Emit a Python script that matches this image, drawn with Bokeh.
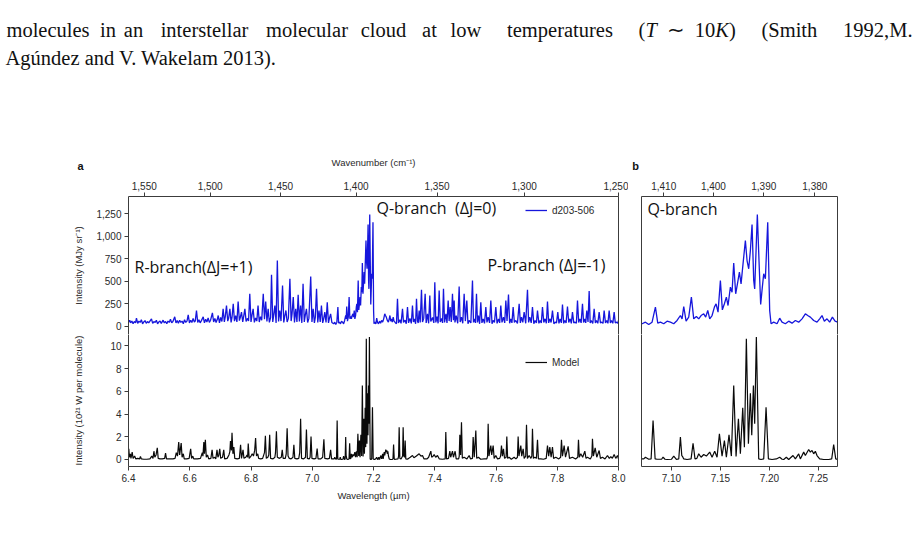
from bokeh.plotting import figure
from bokeh.models import (Range1d, LinearAxis, FixedTicker, CustomJSTickFormatter,
                          NumeralTickFormatter, Label, Legend, LegendItem)
from bokeh.layouts import column, row
from bokeh.embed import file_html
from bokeh.resources import INLINE

# ---------------- data ----------------
# observed spectrum (d203-506), wavelength in micron, intensity in MJy/sr
blue_wl_a = [
    6.400, 6.404, 6.407, 6.411, 6.415, 6.419, 6.423, 6.426, 6.430, 6.434,
    6.438, 6.442, 6.446, 6.450, 6.454, 6.458, 6.462, 6.466, 6.470, 6.475,
    6.479, 6.483, 6.487, 6.491, 6.495, 6.499, 6.503, 6.507, 6.513, 6.517,
    6.521, 6.525, 6.529, 6.533, 6.537, 6.541, 6.545, 6.551, 6.555, 6.559,
    6.563, 6.567, 6.571, 6.575, 6.579, 6.583, 6.587, 6.591, 6.595, 6.599,
    6.603, 6.607, 6.611, 6.615, 6.618, 6.622, 6.626, 6.630, 6.634, 6.638,
    6.644, 6.648, 6.652, 6.656, 6.660, 6.664, 6.668, 6.674, 6.678, 6.682,
    6.686, 6.690, 6.693, 6.697, 6.701, 6.705, 6.709, 6.713, 6.716, 6.720,
    6.724, 6.727, 6.731, 6.735, 6.738, 6.742, 6.746, 6.750, 6.754, 6.758,
    6.762, 6.765, 6.769, 6.773, 6.776, 6.780, 6.784, 6.788, 6.792, 6.796,
    6.800, 6.803, 6.807, 6.811, 6.815, 6.819, 6.823, 6.827, 6.831, 6.835,
    6.840, 6.844, 6.848, 6.852, 6.856, 6.860, 6.864, 6.867, 6.871, 6.874,
    6.878, 6.882, 6.886, 6.890, 6.894, 6.898, 6.903, 6.907, 6.910, 6.914,
    6.918, 6.922, 6.927, 6.931, 6.934, 6.938, 6.942, 6.946, 6.950, 6.954,
    6.958, 6.962, 6.966, 6.970, 6.974, 6.977, 6.981, 6.985, 6.989, 6.995,
    6.999, 7.003, 7.007, 7.010, 7.014, 7.018, 7.022, 7.026, 7.030, 7.034,
    7.037, 7.041, 7.045, 7.049, 7.053, 7.056, 7.060, 7.064]
blue_int_a = [
    45, 70, 40, 60, 30, 55, 40, 92, 35, 60,
    45, 75, 30, 50, 65, 35, 55, 40, 60, 85,
    35, 55, 45, 70, 30, 50, 60, 35, 70, 40,
    55, 30, 60, 45, 80, 40, 55, 107, 40, 65,
    35, 70, 45, 60, 30, 75, 45, 60, 130, 40,
    70, 45, 90, 50, 60, 178, 45, 75, 40, 65,
    107, 40, 80, 50, 95, 45, 70, 152, 50, 90,
    45, 80, 122, 40, 100, 55, 196, 50, 110, 233,
    60, 90, 196, 45, 100, 252, 60, 120, 50, 278,
    65, 100, 159, 50, 110, 196, 55, 90, 60, 363,
    50, 120, 196, 45, 95, 60, 233, 50, 110, 70,
    363, 80, 278, 55, 196, 45, 100, 574, 50, 120,
    233, 40, 733, 55, 178, 60, 455, 45, 110, 178,
    50, 90, 530, 60, 140, 326, 45, 196, 50, 352,
    55, 233, 40, 474, 50, 120, 196, 45, 90, 555,
    50, 196, 40, 100, 418, 45, 178, 50, 233, 40,
    80, 159, 45, 270, 40, 90, 141, 45]
blue_wl_b = [
    7.0701, 7.0735, 7.0769, 7.0803, 7.0837, 7.0861, 7.0888, 7.0922, 7.0956, 7.0990,
    7.1024, 7.1058, 7.1092, 7.1109, 7.1126, 7.1150, 7.1177, 7.1204, 7.1228, 7.1255,
    7.1279, 7.1303, 7.1330, 7.1350, 7.1371, 7.1391, 7.1415, 7.1439, 7.1456, 7.1476,
    7.1500, 7.1520, 7.1541, 7.1561, 7.1578, 7.1602, 7.1619, 7.1636, 7.1656, 7.1677,
    7.1694, 7.1711, 7.1731, 7.1755, 7.1772, 7.1789, 7.1806, 7.1823, 7.1840, 7.1850,
    7.1864, 7.1877, 7.1894, 7.1911, 7.1928, 7.1942, 7.1959, 7.1983, 7.2003, 7.2017,
    7.2044, 7.2078, 7.2105, 7.2129, 7.2163, 7.2197, 7.2231, 7.2265, 7.2299, 7.2333,
    7.2367, 7.2391, 7.2418, 7.2452, 7.2486, 7.2513, 7.2537, 7.2561, 7.2588, 7.2615,
    7.2643, 7.2670]
blue_int_b = [
    30, 48, 22, 48, 215, 37, 48, 30, 59, 48,
    30, 67, 122, 85, 222, 59, 104, 326, 85, 111,
    85, 122, 141, 104, 178, 85, 122, 215, 252, 159,
    511, 185, 252, 326, 233, 437, 381, 704, 363, 493,
    604, 474, 696, 955, 733, 641, 844, 1133, 511, 418,
    844, 1244, 733, 244, 437, 585, 530, 1159, 178, 30,
    48, 30, 92, 48, 30, 59, 37, 67, 48, 85,
    141, 122, 104, 67, 48, 85, 122, 59, 85, 48,
    104, 59]
blue_wl_c = [
    7.2707, 7.2750, 7.2783, 7.2815, 7.2860, 7.2900, 7.2947, 7.2980, 7.3030, 7.3070,
    7.3110, 7.3145, 7.3190, 7.3235, 7.3273, 7.3305, 7.3340, 7.3375, 7.3404, 7.3435,
    7.3460, 7.3491, 7.3525, 7.3567, 7.3600, 7.3640, 7.3687, 7.3720, 7.3763, 7.3800,
    7.3839, 7.3870, 7.3930, 7.3970, 7.4002, 7.4035, 7.4075, 7.4110, 7.4144, 7.4180,
    7.4225, 7.4255, 7.4285, 7.4320, 7.4365, 7.4400, 7.4438, 7.4470, 7.4503, 7.4540,
    7.4579, 7.4610, 7.4634, 7.4660, 7.4700, 7.4750, 7.4797, 7.4830, 7.4873, 7.4915,
    7.4960, 7.5000, 7.5047, 7.5085, 7.5123, 7.5180, 7.5232, 7.5265, 7.5298, 7.5330,
    7.5363, 7.5395, 7.5428, 7.5465, 7.5504, 7.5540, 7.5581, 7.5625, 7.5668, 7.5705,
    7.5744, 7.5790, 7.5831, 7.5870, 7.5907, 7.5950, 7.5994, 7.6035, 7.6081, 7.6120,
    7.6157, 7.6195, 7.6244, 7.6285, 7.6321, 7.6360, 7.6408, 7.6445, 7.6484, 7.6520,
    7.6560, 7.6600, 7.6647, 7.6700, 7.6756, 7.6795, 7.6832, 7.6875, 7.6919, 7.6970,
    7.7028, 7.7065, 7.7104, 7.7150, 7.7191, 7.7235, 7.7278, 7.7320, 7.7355, 7.7400,
    7.7442, 7.7480, 7.7518, 7.7560, 7.7605, 7.7645, 7.7681, 7.7720, 7.7757, 7.7800,
    7.7844, 7.7890, 7.7931, 7.7975, 7.8018, 7.8055, 7.8095, 7.8135, 7.8171, 7.8210,
    7.8247, 7.8290, 7.8334, 7.8375, 7.8421, 7.8460, 7.8497, 7.8540, 7.8584, 7.8625,
    7.8661, 7.8700, 7.8737, 7.8780, 7.8824, 7.8860, 7.8900, 7.8930, 7.8965, 7.9005,
    7.9042, 7.9075, 7.9107, 7.9160, 7.9205, 7.9245, 7.9281, 7.9325, 7.9368, 7.9410,
    7.9455, 7.9495, 7.9531, 7.9575, 7.9618, 7.9655, 7.9695, 7.9735, 7.9771, 7.9815,
    7.9858, 7.9895, 7.9934, 7.9970, 8.0000]
blue_int_c = [
    45, 30, 307, 40, 75, 35, 196, 45, 70, 30,
    215, 40, 90, 35, 233, 50, 85, 30, 307, 60,
    40, 178, 45, 407, 50, 90, 363, 40, 141, 35,
    344, 55, 100, 40, 492, 45, 110, 35, 400, 50,
    90, 40, 418, 45, 141, 40, 289, 60, 215, 50,
    363, 70, 289, 45, 120, 35, 444, 50, 104, 35,
    363, 60, 289, 30, 67, 40, 511, 45, 85, 40,
    363, 45, 122, 30, 270, 40, 85, 35, 215, 45,
    104, 40, 289, 30, 67, 45, 215, 35, 85, 40,
    233, 45, 104, 40, 289, 60, 356, 35, 85, 40,
    215, 45, 67, 35, 252, 40, 104, 45, 159, 35,
    407, 45, 104, 40, 215, 30, 67, 40, 178, 35,
    67, 40, 215, 45, 85, 35, 278, 40, 85, 45,
    178, 30, 48, 40, 159, 35, 85, 40, 244, 35,
    67, 40, 222, 45, 85, 35, 159, 40, 48, 35,
    289, 45, 85, 40, 252, 45, 85, 40, 178, 50,
    393, 40, 67, 35, 196, 40, 67, 35, 159, 40,
    48, 35, 178, 40, 67, 35, 178, 40, 67, 35,
    159, 40, 48, 35, 67]

# model spectrum, intensity in 1e-21 W per molecule
model_wl_a = [
    6.400, 6.401, 6.403, 6.406, 6.408, 6.412, 6.415, 6.420, 6.424, 6.430,
    6.436, 6.439, 6.442, 6.450, 6.460, 6.470, 6.476, 6.480, 6.483, 6.486,
    6.490, 6.494, 6.497, 6.503, 6.510, 6.518, 6.521, 6.524, 6.535, 6.545,
    6.552, 6.556, 6.560, 6.564, 6.567, 6.572, 6.575, 6.579, 6.582, 6.590,
    6.598, 6.603, 6.606, 6.610, 6.613, 6.625, 6.635, 6.641, 6.643, 6.646,
    6.648, 6.651, 6.654, 6.658, 6.662, 6.669, 6.673, 6.676, 6.682, 6.685,
    6.689, 6.692, 6.695, 6.698, 6.701, 6.707, 6.711, 6.714, 6.722, 6.728,
    6.731, 6.733, 6.736, 6.738, 6.741, 6.744, 6.747, 6.755, 6.762, 6.766,
    6.769, 6.774, 6.777, 6.783, 6.787, 6.789, 6.791, 6.794, 6.800, 6.804,
    6.808, 6.812, 6.815, 6.818, 6.822, 6.825, 6.832, 6.838, 6.844, 6.847,
    6.850, 6.855, 6.858, 6.861, 6.864, 6.872, 6.878, 6.880, 6.883, 6.886,
    6.893, 6.899, 6.902, 6.905, 6.912, 6.915, 6.918, 6.921, 6.925, 6.931,
    6.937, 6.940, 6.943, 6.950, 6.956, 6.959, 6.962, 6.965, 6.972, 6.978,
    6.981, 6.984, 6.990, 6.993, 6.996, 6.999, 7.006, 7.012, 7.016, 7.019,
    7.028, 7.034, 7.038, 7.041, 7.050, 7.056, 7.060, 7.063, 7.068]
model_int_a = [
    0.3, 0.94, 0.2, 0.5, 0.1, 0.65, 0.1, 0.3, 0.05, 0.1,
    0.05, 0.26, 0.05, 0.02, 0.02, 0.05, 0.3, 0.1, 0.73, 0.2,
    0.4, 1.03, 0.1, 0.05, 0.05, 0.1, 0.56, 0.05, 0.05, 0.05,
    0.1, 0.6, 0.3, 1.53, 0.4, 1.44, 0.2, 0.5, 0.05, 0.05,
    0.1, 0.94, 0.1, 0.3, 0.05, 0.05, 0.1, 0.6, 0.3, 1.53,
    0.5, 1.73, 0.2, 0.4, 0.05, 0.1, 0.85, 0.1, 0.2, 0.05,
    0.85, 0.2, 0.4, 0.94, 0.1, 0.2, 0.85, 0.05, 0.1, 0.4,
    0.7, 1.62, 0.8, 2.35, 0.5, 1.1, 0.1, 0.05, 0.1, 1.3,
    0.1, 0.85, 0.1, 0.2, 0.4, 0.2, 1.41, 0.1, 0.3, 0.5,
    0.3, 0.8, 1.9, 0.3, 0.5, 0.1, 0.05, 0.1, 0.6, 2.08,
    0.1, 0.2, 0.4, 2.17, 0.1, 0.05, 0.2, 0.6, 2.49, 0.2,
    0.1, 0.2, 0.85, 0.1, 0.1, 0.5, 2.76, 0.3, 0.1, 0.05,
    0.2, 1.3, 0.1, 0.05, 0.1, 0.6, 3.58, 0.1, 0.05, 0.2,
    2.64, 0.1, 0.05, 0.2, 2.02, 0.1, 0.05, 0.1, 0.97, 0.05,
    0.05, 0.2, 1.79, 0.1, 0.05, 0.1, 0.85, 0.05, 0.05]
model_wl_b = [
    7.0718, 7.0735, 7.0769, 7.0793, 7.0813, 7.0834, 7.0854, 7.0900, 7.0915, 7.0935,
    7.0956, 7.1000, 7.1024, 7.1051, 7.1075, 7.1092, 7.1106, 7.1115, 7.1126, 7.1160,
    7.1201, 7.1221, 7.1241, 7.1260, 7.1279, 7.1303, 7.1330, 7.1357, 7.1391, 7.1415,
    7.1442, 7.1466, 7.1490, 7.1517, 7.1541, 7.1561, 7.1588, 7.1612, 7.1636, 7.1660,
    7.1684, 7.1704, 7.1728, 7.1745, 7.1765, 7.1786, 7.1806, 7.1820, 7.1837, 7.1850,
    7.1867, 7.1891, 7.1915, 7.1942, 7.1966, 7.1990, 7.2027, 7.2071, 7.2105, 7.2130,
    7.2146, 7.2173, 7.2197, 7.2241, 7.2265, 7.2299, 7.2316, 7.2350, 7.2367, 7.2401,
    7.2418, 7.2435, 7.2452, 7.2469, 7.2486, 7.2513, 7.2554, 7.2605, 7.2636, 7.2656,
    7.2677, 7.2697]
model_int_b = [
    0.05, 0.20, 0.02, 0.05, 3.44, 0.05, 0.02, 0.02, 0.20, 0.02,
    0.0, 0.02, 0.29, 0.0, 0.05, 1.97, 0.35, 0.25, 0.05, 0.0,
    0.05, 1.43, 0.05, 0.1, 0.5, 0.2, 0.44, 0.3, 0.65, 0.2,
    0.73, 0.2, 2.26, 0.3, 1.67, 0.2, 2.17, 0.3, 6.52, 0.26,
    3.58, 0.5, 4.55, 1.09, 10.63, 1.38, 5.84, 2.13, 6.52, 3.14,
    10.78, 0.05, 0.0, 0.05, 4.6, 0.05, 0.0, 0.05, 0.2, 0.02,
    0.0, 0.2, 0.0, 0.35, 0.05, 0.5, 0.05, 0.65, 0.35, 0.88,
    0.65, 0.8, 0.5, 0.73, 0.35, 0.05, 0.0, 0.0, 0.05, 1.32,
    0.05, 0.0]
model_wl_c = [
    7.2720, 7.2800, 7.2820, 7.2838, 7.2860, 7.2900, 7.2950, 7.2968, 7.2990, 7.3015,
    7.3034, 7.3055, 7.3100, 7.3150, 7.3200, 7.3273, 7.3320, 7.3400, 7.3491, 7.3550,
    7.3600, 7.3650, 7.3750, 7.3800, 7.3872, 7.3900, 7.3950, 7.3981, 7.4030, 7.4089,
    7.4150, 7.4250, 7.4340, 7.4361, 7.4385, 7.4450, 7.4492, 7.4520, 7.4579, 7.4610,
    7.4666, 7.4700, 7.4780, 7.4800, 7.4819, 7.4845, 7.4873, 7.4900, 7.4960, 7.5050,
    7.5123, 7.5170, 7.5230, 7.5254, 7.5290, 7.5341, 7.5370, 7.5428, 7.5500, 7.5613,
    7.5700, 7.5725, 7.5744, 7.5770, 7.5831, 7.5860, 7.5907, 7.5940, 7.5994, 7.6050,
    7.6120, 7.6150, 7.6179, 7.6210, 7.6244, 7.6280, 7.6330, 7.6353, 7.6380, 7.6429,
    7.6500, 7.6593, 7.6650, 7.6700, 7.6723, 7.6750, 7.6810, 7.6840, 7.6887, 7.6920,
    7.6970, 7.6996, 7.7025, 7.7083, 7.7140, 7.7170, 7.7191, 7.7220, 7.7268, 7.7320,
    7.7355, 7.7385, 7.7464, 7.7550, 7.7640, 7.7681, 7.7720, 7.7757, 7.7800, 7.7844,
    7.7880, 7.7953, 7.8050, 7.8110, 7.8138, 7.8170, 7.8225, 7.8270, 7.8356, 7.8400,
    7.8497, 7.8600, 7.8670, 7.8693, 7.8720, 7.8769, 7.8830, 7.8900, 7.8940, 7.8987,
    7.9080, 7.9130, 7.9150, 7.9180, 7.9238, 7.9290, 7.9368, 7.9410, 7.9477, 7.9560,
    7.9640, 7.9700, 7.9749, 7.9800, 7.9858, 7.9910, 7.9967, 8.0000]
model_int_c = [
    0.02, 0.05, 0.3, 2.85, 0.1, 0.05, 0.3, 2.85, 0.3, 0.2,
    1.67, 0.05, 0.02, 0.1, 0.2, 0.35, 0.15, 0.3, 0.5, 0.3,
    0.35, 0.05, 0.05, 0.2, 0.73, 0.2, 0.3, 0.44, 0.2, 0.35,
    0.05, 0.02, 0.05, 2.41, 0.05, 0.1, 0.73, 0.2, 0.73, 0.2,
    0.73, 0.05, 0.05, 0.3, 2.17, 0.4, 3.29, 0.1, 0.2, 0.05,
    0.35, 0.05, 0.1, 1.97, 0.2, 2.55, 0.1, 0.2, 0.02, 0.05,
    0.05, 0.3, 3.14, 0.3, 1.23, 0.4, 1.23, 0.1, 0.35, 0.05,
    0.1, 0.3, 1.23, 0.3, 0.94, 0.1, 0.2, 2.03, 0.1, 0.2,
    0.02, 0.2, 0.05, 0.2, 2.03, 0.3, 1.23, 0.3, 0.94, 0.1,
    0.3, 3.05, 0.1, 0.35, 0.1, 0.3, 2.7, 0.1, 0.2, 0.1,
    1.73, 0.05, 0.05, 0.02, 0.1, 1.23, 0.3, 1.09, 0.2, 1.09,
    0.1, 0.2, 0.05, 0.2, 1.73, 0.3, 1.23, 0.2, 1.15, 0.1,
    0.2, 0.05, 0.2, 1.73, 0.2, 0.5, 0.2, 0.73, 0.1, 0.2,
    0.05, 0.3, 1.82, 0.3, 1.03, 0.2, 0.79, 0.1, 0.2, 0.05,
    0.35, 0.1, 0.26, 0.1, 0.44, 0.1, 0.35, 0.05]

blue_wavelength = blue_wl_a + blue_wl_b + blue_wl_c
blue_intensity = blue_int_a + blue_int_b + blue_int_c
model_wavelength = model_wl_a + model_wl_b + model_wl_c
model_intensity = model_int_a + model_int_b + model_int_c

# tick labels
wavenumber_ticks_a = [1550, 1500, 1450, 1400, 1350, 1300, 1250]
wavenumber_ticks_b = [1410, 1400, 1390, 1380]
wavelength_ticks_a = [6.4, 6.6, 6.8, 7.0, 7.2, 7.4, 7.6, 7.8, 8.0]
wavelength_ticks_b = [7.10, 7.15, 7.20, 7.25]
obs_ticks = [0, 250, 500, 750, 1000, 1250]
model_ticks = [0, 2, 4, 6, 8, 10]

# ---------------- styling ----------------
BLUE = "#1616dc"
BLACK = "#0a0a0a"
AXIS = "#3c3c3c"
TXT = "#2a2a2a"
FONT = "Liberation Sans"
ANN_FONT = "Open Sans"

WN_FMT = """
const v = Math.round(10000 / tick);
const s = String(v);
return s.length > 3 ? s.slice(0, s.length - 3) + ',' + s.slice(s.length - 3) : s;
"""


def make_fig(w, h, xr, yr, left, right, top, bottom):
    p = figure(width=w, height=h, x_range=xr, y_range=yr, output_backend="svg",
               toolbar_location=None, x_axis_location=None, y_axis_location=None,
               min_border_left=left, min_border_right=right,
               min_border_top=top, min_border_bottom=bottom)
    p.grid.visible = False
    p.outline_line_color = None
    p.background_fill_color = "white"
    p.border_fill_color = "white"
    return p


def style(ax, label_standoff=8):
    ax.axis_line_color = AXIS
    ax.axis_line_width = 1
    ax.major_tick_line_color = AXIS
    ax.minor_tick_line_color = None
    ax.major_tick_out = 4
    ax.major_tick_in = 0
    ax.major_label_standoff = 3
    ax.major_label_text_font = FONT
    ax.major_label_text_font_size = "10px"
    ax.major_label_text_color = TXT
    ax.axis_label_text_font = FONT
    ax.axis_label_text_font_size = "9.5px"
    ax.axis_label_text_font_style = "normal"
    ax.axis_label_text_color = TXT
    ax.axis_label_standoff = label_standoff
    return ax


def frame_axis(p, side):
    ax = LinearAxis(ticker=FixedTicker(ticks=[]), axis_line_color=AXIS,
                    major_tick_line_color=None, minor_tick_line_color=None,
                    major_tick_out=0, major_tick_in=0, major_label_standoff=0,
                    major_label_text_font_size="0px")
    p.add_layout(ax, side)


obs_range = (-89, 1444)
mod_range = (-0.617, 11.01)

# ---------------- panel a ----------------
a_top = make_fig(628, 162, Range1d(6.4, 8.0), Range1d(*obs_range), 128, 10, 24, 0)
a_bot = make_fig(628, 208, Range1d(6.4, 8.0), Range1d(*mod_range), 128, 10, 0, 76)

r_obs_a = a_top.line(blue_wavelength, blue_intensity, line_color=BLUE, line_width=1.3)
r_mod_a = a_bot.line(model_wavelength, model_intensity, line_color=BLACK, line_width=1.2)

ax = style(LinearAxis(ticker=FixedTicker(ticks=obs_ticks),
                      formatter=NumeralTickFormatter(format="0,0"),
                      axis_label="Intensity (MJy sr\u207b\u00b9)"), 9)
a_top.add_layout(ax, "left")
ax = style(LinearAxis(ticker=FixedTicker(ticks=[1e4 / w for w in wavenumber_ticks_a]),
                      formatter=CustomJSTickFormatter(code=WN_FMT)))
a_top.add_layout(ax, "above")
frame_axis(a_top, "right")

ax = style(LinearAxis(ticker=FixedTicker(ticks=model_ticks),
                      axis_label="Intensity (10\u00b2\u00b9 W per molecule)"), 23)
a_bot.add_layout(ax, "left")
ax = style(LinearAxis(ticker=FixedTicker(ticks=wavelength_ticks_a),
                      formatter=NumeralTickFormatter(format="0.0"),
                      axis_label="Wavelength (\u00b5m)"), 5)
a_bot.add_layout(ax, "below")
frame_axis(a_bot, "right")

leg_kw = dict(border_line_color=None, background_fill_alpha=0, padding=0, margin=0,
              spacing=0, glyph_width=22, glyph_height=12, label_height=12,
              label_standoff=5, label_text_font=FONT, label_text_font_size="10px",
              label_text_color=TXT)
a_top.add_layout(Legend(items=[LegendItem(label="d203-506", renderers=[r_obs_a])],
                        location=(397, 118), **leg_kw))
a_bot.add_layout(Legend(items=[LegendItem(label="Model", renderers=[r_mod_a])],
                        location=(397, 98), **leg_kw))

ann = dict(text_font=ANN_FONT, text_font_size="16px", text_baseline="middle",
           text_color="#111111")
a_top.add_layout(Label(x=7.2098, y=1311, text="Q-branch\u00a0 (\u0394J=0)", **ann))
a_top.add_layout(Label(x=6.4196, y=656, text="R-branch(\u0394J=+1)", **ann))
a_top.add_layout(Label(x=7.5722, y=678, text="P-branch (\u0394J=-1)", **ann))

# ---------------- panel b ----------------
b_top = make_fig(289, 162, Range1d(7.0695, 7.2695), Range1d(*obs_range), 13, 80, 24, 0)
b_bot = make_fig(289, 208, Range1d(7.0695, 7.2695), Range1d(*mod_range), 13, 80, 0, 76)

b_top.line(blue_wavelength, blue_intensity, line_color=BLUE, line_width=1.3)
b_bot.line(model_wavelength, model_intensity, line_color=BLACK, line_width=1.2)

ax = style(LinearAxis(ticker=FixedTicker(ticks=[1e4 / w for w in wavenumber_ticks_b]),
                      formatter=CustomJSTickFormatter(code=WN_FMT)))
b_top.add_layout(ax, "above")
frame_axis(b_top, "left")
frame_axis(b_top, "right")

ax = style(LinearAxis(ticker=FixedTicker(ticks=wavelength_ticks_b),
                      formatter=NumeralTickFormatter(format="0.00")))
b_bot.add_layout(ax, "below")
frame_axis(b_bot, "left")
frame_axis(b_bot, "right")

b_top.add_layout(Label(x=7.0755, y=1300, text="Q-branch", **ann))

# ---------------- caption and panel headings above the figure ----------------
cap = figure(width=917, height=172, x_range=Range1d(0, 917), y_range=Range1d(172, 0),
             output_backend="svg", toolbar_location=None, x_axis_location=None,
             y_axis_location=None, min_border=0)
cap.grid.visible = False
cap.outline_line_color = None

SERIF = "Liberation Serif"
line1 = [("molecules", 47.5, "normal"), ("in", 107.5, "normal"), ("an", 133, "normal"),
         ("interstellar", 204, "normal"), ("molecular", 306.5, "normal"),
         ("cloud", 383, "normal"), ("at", 429, "normal"), ("low", 465.4, "normal"),
         ("temperatures", 559.5, "normal"), ("(", 641.5, "normal"), ("T", 650.6, "italic"),
         ("\u223c", 675.3, "normal"), ("10", 704.6, "normal"), ("K", 721.7, "italic"),
         (")", 731.9, "normal"), ("(Smith", 788.9, "normal")]
for word, x, st in line1:
    cap.add_layout(Label(x=x, y=29, text=word, text_font=SERIF, text_font_size="20.5px",
                         text_font_style=st, text_align="center",
                         text_baseline="alphabetic", text_color="#111111"))
cap.add_layout(Label(x=912, y=29, text="1992,M.", text_font=SERIF, text_font_size="20.5px",
                     text_align="right", text_baseline="alphabetic", text_color="#111111"))
cap.add_layout(Label(x=5, y=57, text="Ag\u00fandez and V. Wakelam 2013).", text_font=SERIF,
                     text_font_size="20.5px", text_baseline="alphabetic", text_color="#111111"))

head = dict(text_font=FONT, text_font_size="11px", text_font_style="bold",
            text_align="center", text_baseline="middle", text_color="#111111")
cap.add_layout(Label(x=80, y=165, text="a", **head))
cap.add_layout(Label(x=635, y=165, text="b", **head))
cap.add_layout(Label(x=373, y=162, text="Wavenumber (cm\u207b\u00b9)", text_font=FONT,
                     text_font_size="9.5px", text_align="center", text_baseline="middle",
                     text_color=TXT))

layout = column(cap, row(column(a_top, a_bot), column(b_top, b_bot)))

with open("out.html", "w") as f:
    f.write(file_html(layout, INLINE))
